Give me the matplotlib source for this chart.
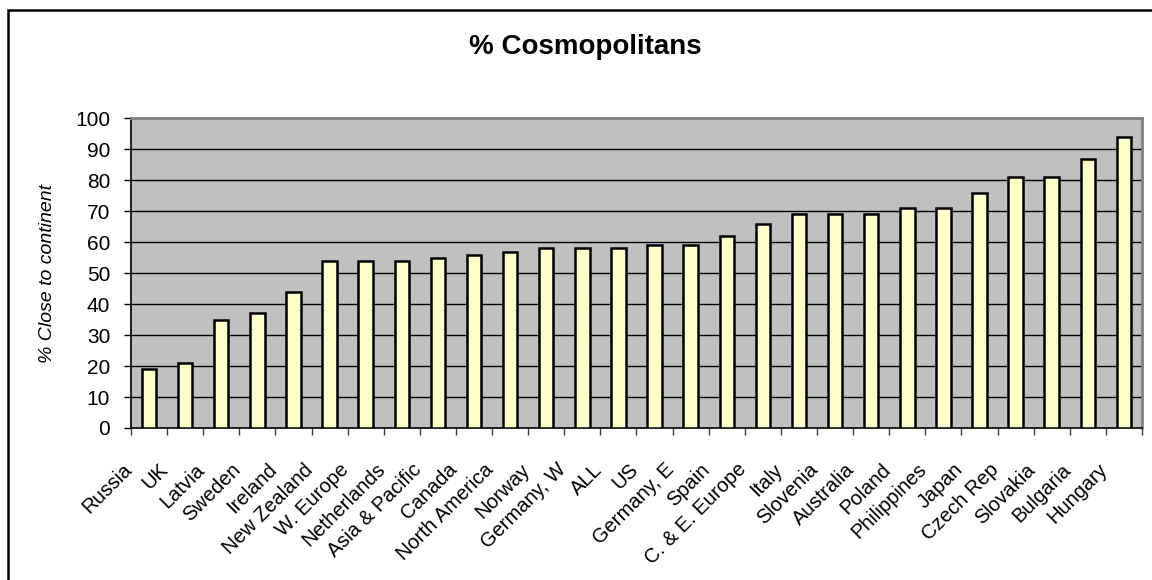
import numpy as np
import matplotlib
matplotlib.use("Agg")
import matplotlib.pyplot as plt
from matplotlib.patches import Rectangle
from matplotlib.transforms import ScaledTranslation

countries = ["Russia", "UK", "Latvia", "Sweden", "Ireland", "New Zealand",
             "W. Europe", "Netherlands", "Asia & Pacific", "Canada",
             "North America", "Norway", "Germany, W", "ALL", "US",
             "Germany, E", "Spain", "C. & E. Europe", "Italy", "Slovenia",
             "Australia", "Poland", "Philippines", "Japan", "Czech Rep",
             "Slovakia", "Bulgaria", "Hungary"]
pctClose = [19, 21, 35, 37, 44, 54, 54, 54, 55, 56, 57, 58, 58, 58, 59,
            59, 62, 66, 69, 69, 69, 71, 71, 76, 81, 81, 87, 94]
yTicks = list(range(0, 101, 10))

plt.rcParams['font.family'] = ['Liberation Sans', 'DejaVu Sans']

fig = plt.figure(figsize=(11.52, 5.8), dpi=100)
ax = fig.add_axes([0.1137, 0.2621, 0.8776, 0.5336])

x = np.arange(len(countries))
ax.bar(x, pctClose, width=0.4, color="#FFFFCC", edgecolor="black", linewidth=1.8, zorder=3)

ax.set_facecolor("#C0C0C0")
ax.set_xlim(-0.5, len(countries) - 0.5)
ax.set_ylim(0, 100)
ax.set_yticks(yTicks)
ax.tick_params(axis="y", labelsize=15, length=5, width=1, pad=10, color="black")
for y in yTicks[1:-1]:
  ax.axhline(y, color="black", linewidth=1, zorder=1)

# labels sit at bar centres, tick marks go between categories
ax.set_xticks(x)
ax.set_xticklabels(countries, rotation=45, ha="right", rotation_mode="anchor", fontsize=14.5)
ax.set_xticks(np.arange(len(countries) + 1) - 0.5, minor=True)
ax.tick_params(axis="x", which="major", length=0, pad=23)
ax.tick_params(axis="x", which="minor", length=5, width=1, color="#404040")
shift = ScaledTranslation(-19 / 72, 0, fig.dpi_scale_trans)
for lbl in ax.get_xticklabels():
  lbl.set_transform(lbl.get_transform() + shift)

for side in ["top", "right"]:
  ax.spines[side].set_color("#808080")
  ax.spines[side].set_linewidth(2)
for side in ["left", "bottom"]:
  ax.spines[side].set_color("black")
  ax.spines[side].set_linewidth(1.2)

ax.set_ylabel("% Close to continent", fontsize=14, style="italic")
ax.yaxis.label.set_va("center")
ax.yaxis.set_label_coords(-0.083, 0.5)

fig.text(585 / 1152, 1 - 47 / 580, "% Cosmopolitans", fontsize=20, fontweight="bold",
         ha="center", va="center")

# chart frame
fig.patches.append(Rectangle((8 / 1152, -0.1), 1.2, 1.1 - 10.5 / 580, transform=fig.transFigure,
                             fill=False, edgecolor="black", linewidth=1.8, clip_on=False))

plt.savefig("out.png", dpi=100)
